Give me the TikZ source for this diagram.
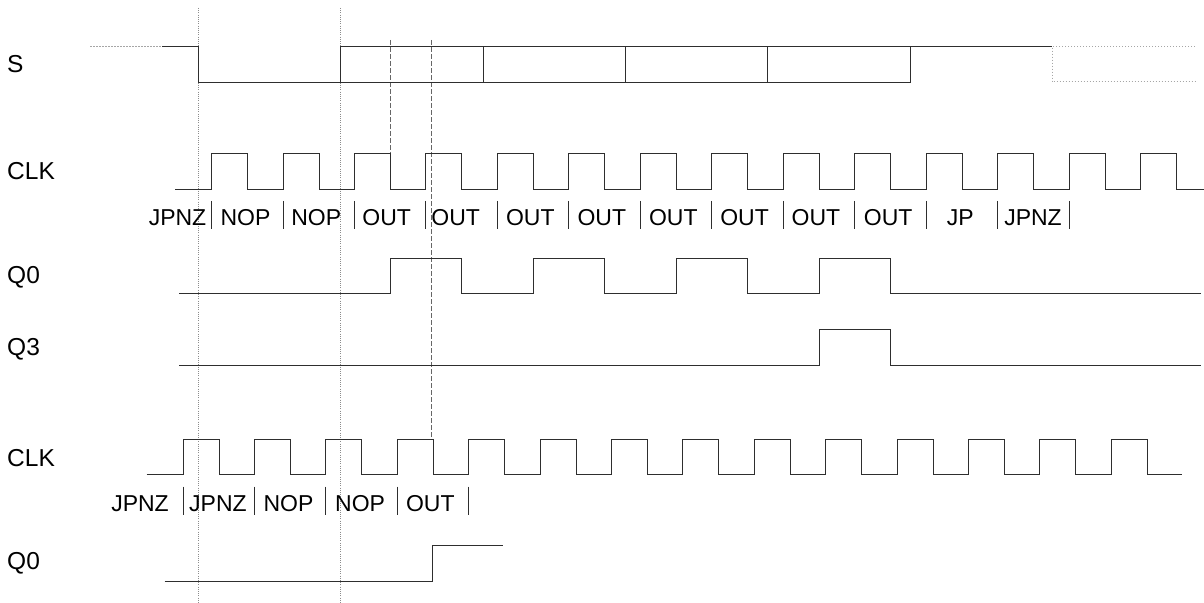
\documentclass[tikz,border=0pt]{standalone}
\usepackage{fontspec}
\setmainfont{Liberation Sans}
\usetikzlibrary{positioning}

\begin{document}
\begin{tikzpicture}[
  x=1bp,y=-1bp,
  wave/.style={line width=.95bp,black!82},
  ghost/.style={line width=1bp,black!35,dash pattern=on 1.5bp off 1.5bp},
  guide/.style={line width=.8bp,black!45,dash pattern=on 1bp off 1.2bp},
  cursor/.style={line width=.9bp,black!60,dash pattern=on 5bp off 2bp},
  tick/.style={line width=.95bp,black!82},
  sig/.style={font=\fontsize{24.5bp}{29bp}\selectfont,anchor=west,inner sep=0pt},
  op/.style={font=\fontsize{23bp}{27bp}\selectfont,anchor=west,inner sep=0pt}
]
  \useasboundingbox (0,0) rectangle (1204,603);

  % signal names
  \node[sig] (nS) at (7,64.3) {S};
  \node[sig] (nClk) at (7,171.5) {CLK};
  \node[sig] (nQa) at (7,277.5) {Q0};
  \node[sig] (nQb) at (7,349) {Q3};
  \node[sig] (nClkB) at (7,458) {CLK};
  \node[sig] (nQc) at (7,563.5) {Q0};

  % guide lines
  \draw[guide] (198,8) -- (198,603);
  \draw[guide] (340,8) -- (340,603);
  \draw[cursor] (390.5,40) -- (390.5,153.7);
  \draw[cursor] (431.7,40) -- (431.7,439);

  % S
  \draw[ghost] (90,46.7) -- (162,46.7);
  \draw[wave] (162,46.7) -- (198,46.7) -- (198,82) -- (340,82) -- (340,46.7) -- (1052,46.7);
  \draw[wave] (340,82) -- (910,82) -- (910,46.7);
  \foreach \x in {483,625,767} \draw[wave] (\x,46.7) -- (\x,82);
  \draw[ghost] (1195,46.7) -- (1052,46.7) -- (1052,82) -- (1195,82);

  % CLK and instructions
  \draw[wave] (175,189.3) \foreach \k in {0,...,13}{ -- ({211.6+71.45*\k},189.3) -- ++(0,-35.6) -- ++(36,0) -- ++(0,35.6)} -- (1204,189.3);
  \foreach \k in {0,...,12} \draw[tick] ({211.6+71.45*\k},201) -- ++(0,28.3);
  \node[op,anchor=east] (opA) at (206.5,218) {JPNZ};
  \foreach \txt/\dx [count=\k] in {NOP/8.7,NOP/8,OUT/7.7,OUT/5.3,OUT/8.5,OUT/8.5,OUT/8.5,OUT/8.3,OUT/8.2,OUT/9,JP/20.5,JPNZ/6.5}
    \node[op] (opA\k) at ({211.6+71.45*(\k-1)+\dx},218) {\txt};

  % Q0, Q3
  \draw[wave] (179,293.7) \foreach \k in {2,4,6,8}{ -- ({247.6+71.45*\k},293.7) -- ++(0,-35.4) -- ++(71.45,0) -- ++(0,35.4)} -- (1201,293.7);
  \draw[wave] (179,365.7) -- (819.2,365.7) -- (819.2,329.7) -- (890.65,329.7) -- (890.65,365.7) -- (1201,365.7);

  % second CLK
  \draw[wave] (146.6,474.3) \foreach \k in {0,...,13}{ -- ({183+71.4*\k},474.3) -- ++(0,-35.3) -- ++(36,0) -- ++(0,35.3)} -- (1181.7,474.3);
  \foreach \k in {0,...,4} \draw[tick] ({183+71.4*\k},486.7) -- ++(0,28.3);
  \node[op,anchor=east] (opB) at (169,503.3) {JPNZ};
  \foreach \txt/\dx [count=\k] in {JPNZ/6,NOP/8.9,NOP/9.2,OUT/8.6}
    \node[op] (opB\k) at ({183+71.4*(\k-1)+\dx},503.3) {\txt};

  % second Q0
  \draw[wave] (164.6,581.7) -- (432.4,581.7) -- (432.4,545.7) -- (503.3,545.7);
\end{tikzpicture}
\end{document}
